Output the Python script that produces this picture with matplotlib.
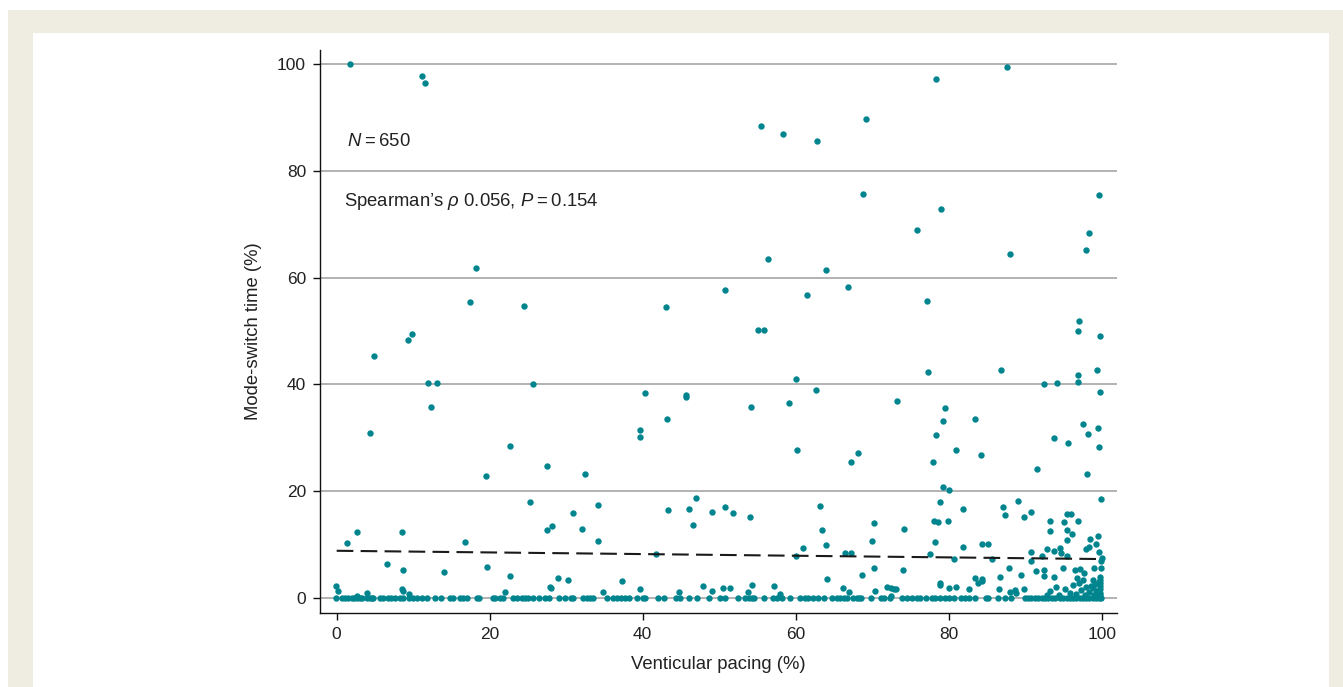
import matplotlib.pyplot as plt
import numpy as np
from matplotlib.patches import Rectangle

plt.rcParams['font.family'] = ['Liberation Sans', 'DejaVu Sans']
plt.rcParams['mathtext.fontset'] = 'custom'
plt.rcParams['mathtext.rm'] = 'Liberation Sans'
plt.rcParams['mathtext.it'] = 'Liberation Sans:italic'

# points clearly above the baseline (pacing %, mode-switch %)
pacing_hi = [
    1.8, 11.2, 11.6, 4.9, 4.4, 9.3, 9.8, 11.9, 13.1, 12.3, 17.4, 18.2, 19.5, 22.7, 24.5, 25.6,
    27.5, 25.3, 32.5, 30.9, 32.1, 27.5, 28.1, 28.9, 30.2, 27.9, 28.0, 22.7, 22.0, 19.6, 16.8,
    14.0, 8.6, 8.7, 6.6, 2.6, 1.4, -0.1, 0.2, 4.0, 8.6, 8.7, 2.6, 9.5,
    55.5, 58.3, 62.8, 56.4, 63.9, 50.8, 43.1, 61.5, 66.9, 55.1, 55.8,
    34.2, 34.2, 40.3, 39.7, 39.7, 43.2, 45.7, 45.7, 54.1, 59.1, 60.1, 62.7, 60.2, 67.2, 68.2,
    43.3, 46.1, 47.0, 46.6, 49.1, 50.8, 51.8, 54.0, 41.7, 63.2, 63.5, 64.0, 61.0, 60.0, 66.4,
    67.2, 64.1, 37.3, 39.6, 34.8, 47.9, 49.1, 50.5, 51.4, 54.3, 57.2, 53.8, 44.7, 66.2, 67.0, 57.9,
    69.2, 78.3, 87.6, 68.8, 79.0, 75.9, 88.0, 99.6, 98.4, 97.9, 77.1, 97.0, 96.9, 99.8,
    77.3, 86.8, 92.4, 94.1, 96.9, 96.9, 99.4, 99.8, 73.2, 79.5, 79.2, 78.4, 83.5, 80.9, 84.2,
    78.0, 97.5, 99.5, 98.2, 93.7, 95.6, 99.7, 91.5, 98.1, 79.3, 80.1, 78.8, 81.9, 99.9, 70.2,
    74.1, 70.0, 78.1, 78.6, 79.9, 78.2, 77.5, 81.9, 84.3, 85.2, 80.7, 85.7, 87.1, 87.3, 89.1,
    89.8, 90.7, 90.8, 90.8, 87.9, 89.5, 91.4, 92.2, 92.9, 93.3, 93.3, 92.4, 92.5, 93.8, 94.5,
    94.7, 95.1, 95.5, 95.4, 96.1, 95.5, 96.0, 96.9, 94.9, 95.5, 93.7, 94.0, 96.5, 97.2, 96.8,
    97.5, 97.9, 98.5, 98.4, 99.2, 99.5, 99.7, 100.1, 99.9, 99.0, 99.9, 98.8, 97.7, 78.8, 78.8,
    80.0, 81.0, 83.5, 83.8, 84.3, 84.4, 82.7, 86.7, 86.6, 88.0, 88.7, 88.8, 89.9, 74.0, 68.7,
    70.3, 70.4, 72.0, 72.4, 72.8, 73.1, 72.4,
    99.8, 99.8, 99.8, 99.8, 99.8, 99.8, 99.8, 99.6, 99.6, 98.0, 98.3, 97.3, 96.6, 97.8, 98.9,
    99.1, 99.3, 95.8, 95.2, 94.4, 93.2, 92.8, 96.2, 97.0, 98.6, 99.4, 99.0,
]
mst_hi = [
    100.0, 97.8, 96.5, 45.4, 30.9, 48.4, 49.4, 40.2, 40.2, 35.8, 55.4, 61.7, 22.8, 28.5, 54.7, 40.1,
    24.7, 18.0, 23.3, 16.0, 12.9, 12.7, 13.5, 3.7, 3.3, 2.1, 1.8, 4.1, 1.1, 5.8, 10.5,
    4.9, 12.3, 5.2, 6.4, 12.3, 10.3, 2.2, 1.4, 0.9, 1.6, 1.4, 0.4, 0.7,
    88.4, 86.9, 85.6, 63.5, 61.4, 57.7, 54.4, 56.8, 58.2, 50.1, 50.1,
    17.5, 10.7, 38.3, 31.4, 30.1, 33.5, 38.1, 37.7, 35.7, 36.5, 41.1, 38.9, 27.7, 25.5, 27.2,
    16.5, 16.7, 18.8, 13.7, 16.1, 17.0, 15.9, 15.1, 8.3, 17.2, 12.7, 10.0, 9.3, 7.9, 8.5,
    8.5, 3.6, 3.2, 1.7, 1.1, 2.2, 1.3, 1.8, 1.9, 2.4, 2.3, 1.1, 1.1, 1.8, 1.1, 0.7,
    89.6, 97.1, 99.4, 75.6, 72.9, 68.9, 64.5, 75.5, 68.3, 65.2, 55.7, 51.9, 50.0, 49.1,
    42.3, 42.6, 40.1, 40.3, 41.8, 40.4, 42.6, 38.5, 36.9, 35.5, 33.2, 30.5, 33.5, 27.8, 26.8,
    25.5, 32.5, 31.9, 30.7, 29.9, 29.0, 28.2, 24.2, 23.2, 20.7, 20.3, 17.9, 16.7, 18.5, 14.1,
    12.9, 10.7, 14.5, 14.2, 14.5, 10.5, 8.3, 9.6, 10.2, 10.2, 7.3, 7.3, 17.0, 15.5, 18.2,
    15.2, 16.2, 8.7, 6.9, 5.7, 4.3, 5.1, 7.9, 9.2, 14.5, 12.5, 5.3, 4.1, 8.9, 9.4,
    8.4, 14.3, 12.8, 10.9, 12.0, 15.8, 15.8, 14.5, 5.7, 7.9, 3.9, 2.1, 5.2, 5.5, 3.8,
    3.4, 9.1, 11.0, 9.6, 10.2, 11.7, 8.7, 7.5, 6.9, 5.6, 5.7, 3.4, 4.6, 2.9, 2.4,
    1.8, 2.1, 3.8, 2.9, 3.6, 3.2, 1.6, 3.9, 1.6, 1.2, 1.5, 1.0, 1.7, 5.2, 4.3,
    5.7, 1.3, 2.1, 1.9, 1.7, 1.7, 0.4,
    4.0, 3.4, 2.8, 2.2, 1.6, 1.0, 0.5, 3.0, 1.3, 2.0, 1.2, 1.5, 0.8, 0.6, 1.8,
    2.6, 0.9, 1.0, 1.7, 0.6, 1.3, 0.5, 2.4, 2.8, 2.3, 1.4, 0.5,
]

# pacing values of patients with (near) zero mode-switch time
pacing_zero = [
    -0.1, 0.65, 1.1, 1.5, 2.0, 2.3, 2.6, 3.0, 3.3, 3.9, 4.35, 4.6, 4.8, 5.6, 6.0, 6.75, 7.1,
    7.6, 8.3, 8.7, 9.5, 10.0, 10.5, 11.1, 11.8, 12.85, 13.7, 14.8, 15.2, 16.1, 16.5, 17.1,
    18.3, 18.6, 20.4, 20.7, 21.3, 21.7, 23.1, 23.6, 24.2, 24.6, 25.0, 25.7, 26.4, 27.2, 27.8,
    29.0, 29.8, 30.6, 30.9, 32.2, 32.7, 33.1,
    33.5, 35.3, 36.1, 36.6, 37.2, 37.7, 38.25, 39.3, 40.1, 40.3, 42.0, 42.8, 44.3, 44.9, 46.1,
    47.1, 48.7, 50.1, 50.8, 52.4, 53.4, 53.9, 54.3, 54.6, 55.9, 57.0, 57.5, 58.2, 59.3, 60.6,
    61.2, 61.6, 62.2, 62.9, 63.7, 64.7, 65.4, 65.8, 66.3, 66.7, 67.5, 68.0, 68.3,
    68.6, 69.9, 71.1, 71.5, 72.3, 73.9, 74.5, 75.2, 75.8, 76.3, 77.0, 77.8, 78.2, 78.9, 79.5,
    80.1, 80.7, 81.6, 82.1, 82.6, 83.4, 84.9, 85.1, 86.5, 87.4, 88.2, 90.0, 90.4, 90.8, 91.3,
    91.7, 92.2, 92.6, 93.0, 93.5, 93.9, 94.6, 95.0, 95.4, 95.9, 96.3, 96.7, 97.2, 97.6, 98.0,
    98.4, 98.9, 99.3, 99.7, 99.9,
]
mst_zero = [0.0] * len(pacing_zero)

# fitted line (dashed)
fit_x = [0, 100]
fit_y = [8.85, 7.3]

teal = '#00858f'
txt = '#222222'

fig = plt.figure(figsize=(13.43, 6.87), dpi=100)
fig.patch.set_facecolor('white')
fig.patches.append(Rectangle((8 / 1343, 0), 1, 677 / 687, transform=fig.transFigure,
                             facecolor='#efece1', edgecolor='none', zorder=-10))
fig.patches.append(Rectangle((33 / 1343, 0), 1296 / 1343, 654 / 687, transform=fig.transFigure,
                             facecolor='white', edgecolor='none', zorder=-9))

ax = fig.add_axes([320 / 1343, 74 / 687, 797 / 1343, 563 / 687])
ax.set_facecolor('none')

ax.scatter(pacing_zero, mst_zero, s=21, color=teal, linewidths=0, zorder=3)
ax.scatter(pacing_hi, mst_hi, s=21, color=teal, linewidths=0, zorder=3)
ax.plot(fit_x, fit_y, color='#1a1a1a', lw=1.5, dashes=(8, 3.5), zorder=4)

ax.set_xlim(-2.18, 102.0)
ax.set_ylim(-2.8, 102.6)
ax.set_xticks([0, 20, 40, 60, 80, 100])
ax.set_yticks([0, 20, 40, 60, 80, 100])
ax.grid(axis='y', color='#a6a6a6', lw=1.2, zorder=1)
ax.set_axisbelow(True)

for s in ['top', 'right']:
    ax.spines[s].set_visible(False)
for s in ['left', 'bottom']:
    ax.spines[s].set_color('#111111')
    ax.spines[s].set_linewidth(1.0)

ax.tick_params(axis='both', direction='out', length=5, width=1.0, color='#111111',
               labelsize=12.5, labelcolor=txt, pad=5)

ax.set_xlabel('Venticular pacing (%)', fontsize=13.3, color=txt, labelpad=10)
ax.set_ylabel('Mode-switch time (%)', fontsize=13.3, color=txt, labelpad=11)

ax.text(1.35, 85.4, '$N$\u2009=\u2009650', fontsize=13.3, color=txt, va='center', ha='left')
ax.text(1.0, 74.3, "Spearman\u2019s $\\rho$ 0.056, $P$\u2009=\u20090.154", fontsize=13.3,
        color=txt, va='center', ha='left')

plt.savefig('out.png', dpi=100)
